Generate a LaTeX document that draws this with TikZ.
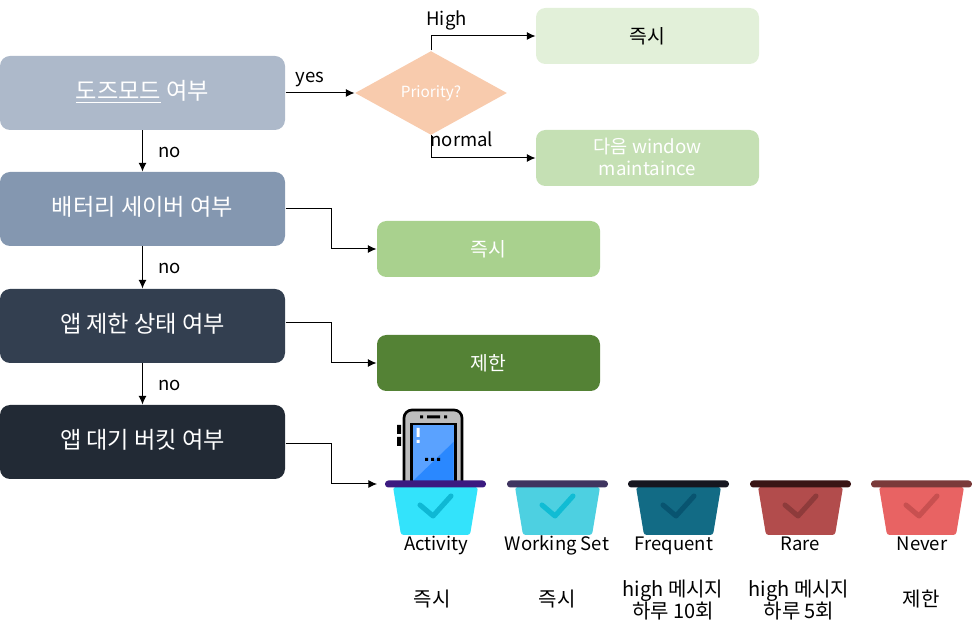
\documentclass[tikz,border=0pt]{standalone}
\usepackage{fontspec}
\setmainfont{Noto Sans CJK KR}
\usetikzlibrary{shapes.geometric,arrows.meta}
\definecolor{dozeC}{HTML}{ADB9CA}
\definecolor{saverC}{HTML}{8497B0}
\definecolor{restrictC}{HTML}{333F50}
\definecolor{standbyC}{HTML}{222A35}
\definecolor{prioC}{HTML}{F8CBAD}
\definecolor{highC}{HTML}{E2F0D9}
\definecolor{normalC}{HTML}{C5E0B4}
\definecolor{okC}{HTML}{A9D18E}
\definecolor{denyC}{HTML}{548235}
\definecolor{screenA}{HTML}{5AA2FF}
\definecolor{screenB}{HTML}{2A88FF}
\definecolor{caseC}{HTML}{BDBDBD}
\definecolor{rimA}{HTML}{3B1A80}
\definecolor{bodyA}{HTML}{33E3FB}
\definecolor{checkA}{HTML}{0FB8D4}
\definecolor{rimB}{HTML}{3F3560}
\definecolor{bodyB}{HTML}{4DD0E1}
\definecolor{checkB}{HTML}{10BCD4}
\definecolor{rimC}{HTML}{16161F}
\definecolor{bodyC}{HTML}{126B85}
\definecolor{checkC}{HTML}{085470}
\definecolor{rimD}{HTML}{3A1515}
\definecolor{bodyD}{HTML}{B24C4C}
\definecolor{checkD}{HTML}{8E3B3B}
\definecolor{rimE}{HTML}{7A3A3A}
\definecolor{bodyE}{HTML}{E86363}
\definecolor{checkE}{HTML}{C85050}
% one bucket: left end of rim, node name, colour letter
\newcommand{\bucket}[3]{
  \fill[body#3,rounded corners=2pt] ({#1+8},487) -- ({#1+93},487) -- ({#1+85},535) -- ({#1+16},535) -- cycle;
  \draw[check#3,line width=3.8pt,line cap=round,line join=round] ({#1+35},505) -- ({#1+48},516) -- ({#1+66},496);
  \node[rim,fill=rim#3] (#2) at ({#1+50.5},484) {};
}
\tikzset{
  flowbox/.style={rectangle,rounded corners=7.5pt,minimum width=213.75pt,minimum height=55.5pt,inner sep=0pt,text=white,text height=12pt,text depth=1.5pt,font=\fontsize{17.4}{20}\selectfont},
  resultbox/.style={rectangle,rounded corners=7pt,minimum width=167.25pt,minimum height=42pt,inner sep=0pt,align=center,font=\fontsize{14.5}{16.5}\selectfont},
  rim/.style={rectangle,rounded corners=2.5pt,minimum width=75.75pt,minimum height=5.25pt,inner sep=0pt},
  lbl/.style={inner sep=0pt,font=\fontsize{13.9}{16.5}\selectfont,anchor=base},
  note/.style={inner sep=0pt,font=\fontsize{15}{16.5}\selectfont,align=center},
  edgelbl/.style={inner sep=0pt,font=\fontsize{13.9}{16.5}\selectfont,anchor=base west},
}
\begin{document}
\begin{tikzpicture}[x={(0.75pt,0pt)}, y={(0pt,-0.75pt)}, >={Latex[length=6.5pt,width=6pt]}, line width=0.75pt]
  \useasboundingbox (0,0) rectangle (972,634);
  % Nodes
  \node[flowbox,fill=dozeC] (Doze) at (142.5,93) {\underline{\smash{도즈모드}} 여부};
  \node[flowbox,fill=saverC] (Saver) at (142.5,209) {배터리 세이버 여부};
  \node[flowbox,fill=restrictC] (Restrict) at (142.5,326) {앱 제한 상태 여부};
  \node[flowbox,fill=standbyC] (Standby) at (142.5,442) {앱 대기 버킷 여부};
  \node[diamond,fill=prioC,minimum width=114pt,minimum height=63pt,inner sep=0pt,aspect=1.81,text=white,font=\fontsize{11.5}{14}\selectfont] (Priority) at (431,93) {Priority?\hspace{3pt}};
  \node[resultbox,fill=highC] (High) at (647.5,36) {즉시};
  \node[resultbox,fill=normalC,text=white,font=\fontsize{14}{16.5}\selectfont,text height=26pt,text depth=0pt] (Normal) at (647.5,158) {다음 window\\maintaince};
  \node[resultbox,fill=okC,text=white] (Instant) at (488.5,249) {즉시};
  \node[resultbox,fill=denyC,text=white] (Deny) at (488.5,363) {제한};
  \coordinate (BucketIn) at (377,484);
  % Phone
  \fill[black] (397,425) rectangle (401,434) (397,437) rectangle (401,446);
  \draw[black,fill=caseC,line width=2pt,rounded corners=6pt] (404,481) -- (404,410) -- (462,410) -- (462,481);
  \fill[black] (410,423) rectangle (457,481);
  \fill[screenA] (413,425.5) rectangle (453.5,481);
  \fill[screenB] (413,481) -- (453.5,442) -- (453.5,481) -- cycle;
  \fill[black] (420,415.5) rectangle (423,418.5) (427,415.5) rectangle (440,418.5) (444,415.5) rectangle (447,418.5);
  \fill[white] (416.5,428) rectangle (419.5,437) (416.5,440) rectangle (419.5,443);
  \fill[black] (425,458) rectangle (428,461) (431,458) rectangle (434,461) (437,458) rectangle (440,461);
  % Buckets
  \bucket{385}{RimA}{A}
  \bucket{507}{RimB}{B}
  \bucket{628}{RimC}{C}
  \bucket{750}{RimD}{D}
  \bucket{871}{RimE}{E}
  \node[lbl] (Activity) at (436,551) {Activity};
  \node[note] (ActivityNote) at (432,599) {즉시};
  \node[lbl] (Working) at (557,551) {Working Set};
  \node[note] (WorkingNote) at (557,599) {즉시};
  \node[lbl] (Frequent) at (674,551) {Frequent};
  \node[note] (FrequentNote) at (673,600) {high 메시지\\하루 10회};
  \node[lbl] (Rare) at (800,551) {Rare};
  \node[note] (RareNote) at (799,600) {high 메시지\\하루 5회};
  \node[lbl] (Never) at (922,551) {Never};
  \node[note] (NeverNote) at (921,599) {제한};
  % Edges
  \draw[->] (Doze) -- (Saver);
  \draw[->] (Saver) -- (Restrict);
  \draw[->] (Restrict) -- (Standby);
  \draw[->] (Doze.east) -- (Priority.west);
  \draw[->] (Priority.north) |- (High.west);
  \draw[->] (Priority.south) |- (Normal.west);
  \draw[->] (Saver.east) -- ++(46,0) |- (Instant.west);
  \draw[->] ([yshift=2.25pt]Restrict.east) -- ++(46,0) |- (Deny.west);
  \draw[->] ([yshift=-1.5pt]Standby.east) -- ++(46,0) |- (BucketIn);
  % Edge labels
  \node[edgelbl] (NoA) at (158,158) {no};
  \node[edgelbl] (NoB) at (158,274) {no};
  \node[edgelbl] (NoC) at (158,391) {no};
  \node[edgelbl] (YesLabel) at (295,83) {yes};
  \node[edgelbl] (HighLabel) at (426,26) {High};
  \node[edgelbl] (NormalLabel) at (430,147) {normal};
\end{tikzpicture}
\end{document}
